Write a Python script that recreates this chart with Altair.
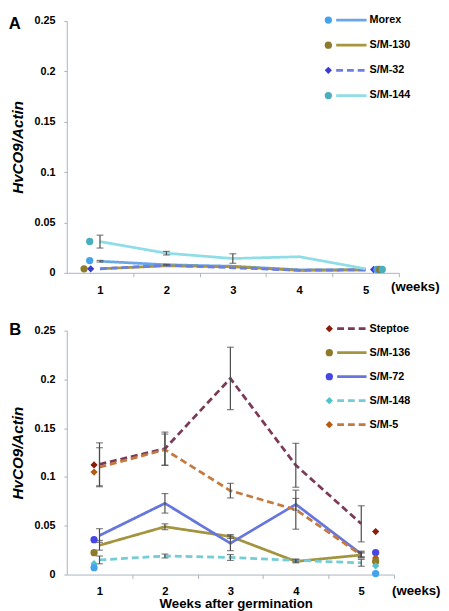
import altair as alt
import pandas as pd

FONT = "Liberation Sans"
weeks = [1, 2, 3, 4, 5]

# ---------------- Panel A data ----------------
a_series = ["Morex", "S/M-130", "S/M-32", "S/M-144"]
a_values = {
    "Morex":   [0.0115, 0.0080, 0.0065, 0.0030, 0.0030],
    "S/M-130": [0.0040, 0.0070, 0.0060, 0.0025, 0.0030],
    "S/M-32":  [0.0040, 0.0075, 0.0050, 0.0025, 0.0030],
    "S/M-144": [0.0310, 0.0195, 0.0142, 0.0160, 0.0040],
}
a_errors = {
    "Morex":   [0.0008, 0.0005, 0.0, 0.0, 0.0],
    "S/M-130": [0.0, 0.0, 0.0, 0.0, 0.0],
    "S/M-32":  [0.0, 0.0, 0.0, 0.0, 0.0],
    "S/M-144": [0.0064, 0.0018, 0.0047, 0.0, 0.0],
}
# stray markers (as drawn in the original figure)
a_marker_series = ["Morex", "S/M-144", "S/M-130", "S/M-32",
                   "S/M-32", "Morex", "S/M-130", "S/M-144"]
a_marker_x = [0.845, 0.845, 0.76, 0.86, 5.12, 5.17, 5.21, 5.25]
a_marker_y = [0.0122, 0.0311, 0.0040, 0.0040, 0.0033, 0.0033, 0.0033, 0.0033]
a_line_colors = ["#6aa6e6", "#a8963c", "#6b7fe3", "#8fdde6"]
a_fill_colors = ["#45a3ee", "#8c7b2b", "#3a3ad6", "#4aaebf"]
a_shapes = ["circle", "circle", "diamond", "circle"]
a_dashes = [[1, 0], [1, 0], [7, 4], [1, 0]]

# ---------------- Panel B data ----------------
b_series = ["Steptoe", "S/M-136", "S/M-72", "S/M-148", "S/M-5"]
b_values = {
    "Steptoe": [0.113, 0.129, 0.201, 0.112, 0.052],
    "S/M-136": [0.030, 0.049, 0.039, 0.0135, 0.020],
    "S/M-72":  [0.040, 0.073, 0.032, 0.072, 0.021],
    "S/M-148": [0.015, 0.019, 0.0175, 0.0145, 0.012],
    "S/M-5":   [0.110, 0.128, 0.086, 0.0665, 0.020],
}
b_errors = {
    "Steptoe": [0.022, 0.017, 0.032, 0.0225, 0.0185],
    "S/M-136": [0.005, 0.003, 0.002, 0.0015, 0.003],
    "S/M-72":  [0.007, 0.010, 0.0075, 0.006, 0.003],
    "S/M-148": [0.004, 0.002, 0.003, 0.0015, 0.0035],
    "S/M-5":   [0.020, 0.016, 0.0075, 0.020, 0.002],
}
b_marker_series = ["Steptoe", "S/M-5", "S/M-72", "S/M-136", "S/M-148", "extra",
                   "Steptoe", "S/M-72", "S/M-5", "S/M-136", "S/M-148", "extra"]
b_marker_x = [0.917, 0.917, 0.917, 0.917, 0.917, 0.917,
              5.22, 5.22, 5.22, 5.22, 5.22, 5.22]
b_marker_y = [0.1124, 0.105, 0.0357, 0.0224, 0.0112, 0.0070,
              0.044, 0.0225, 0.0170, 0.0135, 0.0090, 0.0010]
b_line_colors = ["#7b3b58", "#a39440", "#6676dc", "#74ccd6", "#c47a3e", "#6aa6e6"]
b_fill_colors = ["#8b1c0c", "#8c7b2b", "#4646e6", "#4fc3cc", "#b35b14", "#45a3ee"]
b_shapes = ["diamond", "circle", "circle", "diamond", "diamond", "circle"]
b_dashes = [[7, 4], [1, 0], [1, 0], [7, 4], [7, 4], [1, 0]]

y_ticks = [0, 0.05, 0.1, 0.15, 0.2, 0.25]
AXIS_GRAY = "#aab3c0"
ERR_COLOR = "#4a4a4a"


def make_panel(series, values, errors, m_series, m_x, m_y, line_colors, fill_colors,
               shapes, dashes, width, height, letter, letter_xy, leg_range, leg_x,
               weeks_xy, show_xtitle, label_pad):
    domain = series + (["extra"] if "extra" in m_series else [])
    stroke_sc = alt.Scale(domain=domain, range=line_colors[:len(domain)])
    fill_sc = alt.Scale(domain=domain, range=fill_colors[:len(domain)])
    shape_sc = alt.Scale(domain=domain, range=shapes[:len(domain)])
    dash_sc = alt.Scale(domain=domain, range=dashes[:len(domain)])
    step = width / 5.0
    x_sc = alt.Scale(domain=[0.5, 5.5], nice=False, zero=False)
    y_sc = alt.Scale(domain=[0, 0.25], nice=False, zero=False)

    rows = []
    for s in series:
        for w, v, e in zip(weeks, values[s], errors[s]):
            rows.append({"series": s, "week": w, "value": v, "err": e})
    df = pd.DataFrame(rows)
    df["low"] = df["value"] - df["err"]
    df["high"] = df["value"] + df["err"]
    df_err = df[df["err"] > 0]
    df_caps = pd.concat([
        df_err[["series", "week", "low"]].rename(columns={"low": "cap"}),
        df_err[["series", "week", "high"]].rename(columns={"high": "cap"}),
    ])
    df_mk = pd.DataFrame({"series": m_series, "x": m_x, "value": m_y})

    x_axis = alt.Axis(values=weeks, format="d", tickOffset=step / 2, labelOffset=-step / 2,
                      title=None, grid=False, domainColor=AXIS_GRAY, tickColor=AXIS_GRAY,
                      tickSize=4, labelFont=FONT, labelFontWeight="bold", labelFontSize=11.5,
                      labelColor="black", labelPadding=label_pad, labelFlush=False)
    y_axis = alt.Axis(values=y_ticks, format=".2~f", title="HvCO9/Actin", grid=False,
                      domainColor=AXIS_GRAY, tickColor=AXIS_GRAY, tickSize=3,
                      labelFont=FONT, labelFontWeight="bold", labelFontSize=11,
                      labelColor="black", labelPadding=9, titleFont=FONT,
                      titleFontWeight="bold", titleFontStyle="italic", titleFontSize=15.5,
                      titleColor="black", titlePadding=9)

    lines = alt.Chart(df).mark_line(strokeWidth=2.8).encode(
        x=alt.X("week:Q", scale=x_sc, axis=x_axis),
        y=alt.Y("value:Q", scale=y_sc, axis=y_axis),
        stroke=alt.Stroke("series:N", scale=stroke_sc, legend=None),
        strokeDash=alt.StrokeDash("series:N", scale=dash_sc, legend=None),
    )
    err_rules = alt.Chart(df_err).mark_rule(color=ERR_COLOR, strokeWidth=1.2).encode(
        x=alt.X("week:Q", scale=x_sc), y=alt.Y("low:Q", scale=y_sc), y2="high:Q")
    err_caps = alt.Chart(df_caps).mark_tick(color=ERR_COLOR, orient="horizontal",
                                            size=7, thickness=1.2).encode(
        x=alt.X("week:Q", scale=x_sc), y=alt.Y("cap:Q", scale=y_sc))
    markers = alt.Chart(df_mk).mark_point(filled=True, size=55, opacity=1,
                                          strokeWidth=0).encode(
        x=alt.X("x:Q", scale=x_sc), y=alt.Y("value:Q", scale=y_sc),
        fill=alt.Fill("series:N", scale=fill_sc, legend=None),
        shape=alt.Shape("series:N", scale=shape_sc, legend=None))
    main = alt.layer(lines, err_rules, err_caps, markers)

    # manual legend
    df_leg = pd.DataFrame({"series": series})
    leg_y = alt.Y("series:N", sort=series, axis=None,
                  scale=alt.Scale(type="point", range=leg_range, padding=0))
    leg_mk = alt.Chart(df_leg).mark_point(filled=True, size=55, opacity=1,
                                          strokeWidth=0).encode(
        x=alt.value(leg_x[0]), y=leg_y,
        fill=alt.Fill("series:N", scale=fill_sc, legend=None),
        shape=alt.Shape("series:N", scale=shape_sc, legend=None))
    leg_ln = alt.Chart(df_leg).mark_rule(strokeWidth=2.8).encode(
        x=alt.value(leg_x[1]), x2=alt.value(leg_x[2]), y=leg_y,
        stroke=alt.Stroke("series:N", scale=stroke_sc, legend=None),
        strokeDash=alt.StrokeDash("series:N", scale=dash_sc, legend=None))
    leg_tx = alt.Chart(df_leg).mark_text(align="left", baseline="middle", font=FONT,
                                         fontWeight="bold", fontSize=11,
                                         color="black").encode(
        x=alt.value(leg_x[3]), y=leg_y, text="series:N")

    one = pd.DataFrame({"k": [0]})
    letter_t = alt.Chart(one).mark_text(align="center", baseline="middle", font=FONT,
                                        fontWeight="bold", fontSize=17,
                                        color="black").encode(
        x=alt.value(letter_xy[0]), y=alt.value(letter_xy[1]), text=alt.value(letter))
    weeks_t = alt.Chart(one).mark_text(align="left", baseline="middle", font=FONT,
                                       fontWeight="bold", fontSize=13.5,
                                       color="black").encode(
        x=alt.value(weeks_xy[0]), y=alt.value(height + weeks_xy[1]),
        text=alt.value("(weeks)"))
    extras = [leg_mk, leg_ln, leg_tx, letter_t, weeks_t]
    if show_xtitle:
        extras.append(alt.Chart(one).mark_text(align="center", baseline="middle",
                                               font=FONT, fontWeight="bold",
                                               fontSize=13.5, color="black").encode(
            x=alt.value(show_xtitle[0]), y=alt.value(height + show_xtitle[1]),
            text=alt.value("Weeks after germination")))
    legend = alt.layer(*extras)
    return alt.layer(main, legend).resolve_scale(y="independent").properties(
        width=width, height=height)


WA, HA = 339, 257
WB, HB = 334, 249

panel_a = make_panel(a_series, a_values, a_errors, a_marker_series, a_marker_x, a_marker_y,
                     a_line_colors, a_fill_colors, a_shapes, a_dashes, WA, HA, "A",
                     (-53, 3), [-1, 76], (267, 275, 306, 309), (331, 14.3), None, 8)
panel_b = make_panel(b_series, b_values, b_errors, b_marker_series, b_marker_x, b_marker_y,
                     b_line_colors, b_fill_colors, b_shapes, b_dashes, WB, HB, "B",
                     (-52.5, -0.7), [-2, 96], (268, 276, 306, 309), (332, 17.3),
                     (173, 30.3), 7)

chart = alt.vconcat(panel_a, panel_b, spacing=25).resolve_scale(
    x="independent", y="independent", stroke="independent", fill="independent",
    shape="independent", strokeDash="independent"
).configure_view(stroke=None).properties(padding=0)

chart.save("out.html", embed_options={"renderer": "svg", "actions": False})
